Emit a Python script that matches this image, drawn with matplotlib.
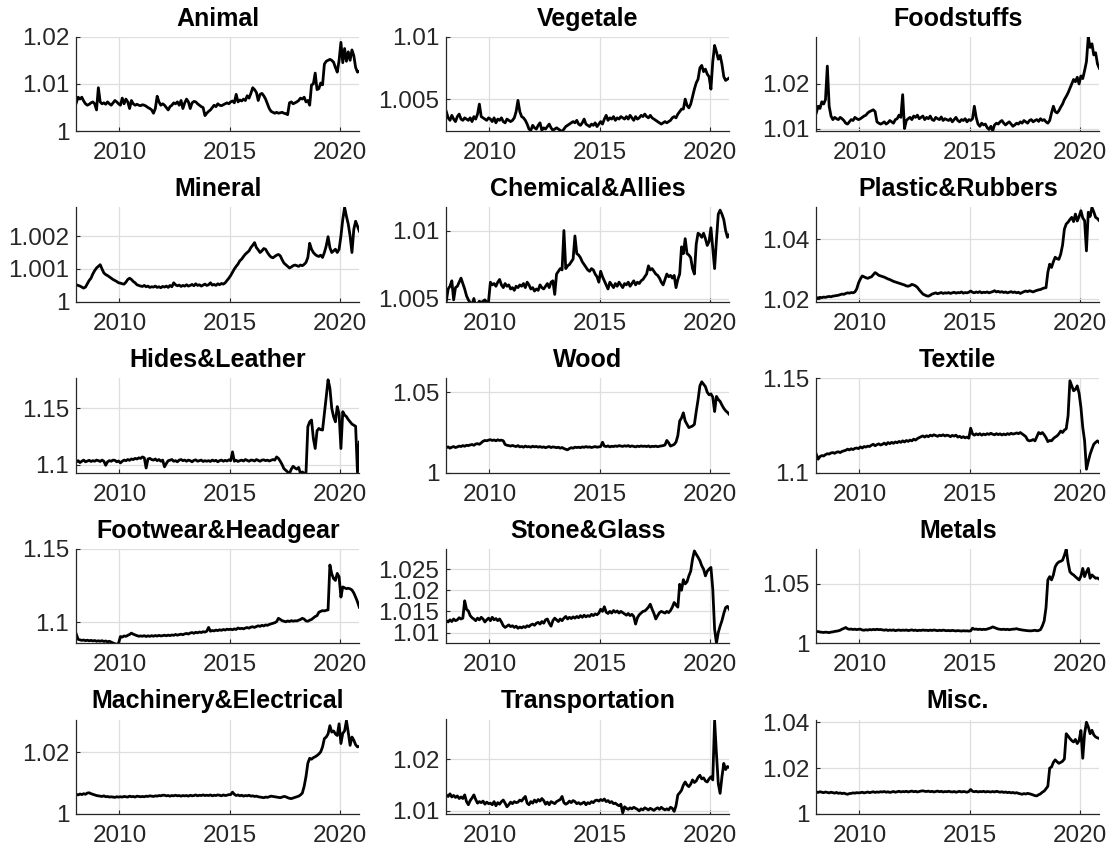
import numpy as np
import matplotlib
matplotlib.use("Agg")
import matplotlib.pyplot as plt

plt.rcParams['font.family'] = ['Liberation Sans', 'DejaVu Sans']

# monthly observations, Jan 2008 .. Nov 2020
start_year = 2008

titles = ["Animal", "Vegetale", "Foodstuffs",
          "Mineral", "Chemical&Allies", "Plastic&Rubbers",
          "Hides&Leather", "Wood", "Textile",
          "Footwear&Headgear", "Stone&Glass", "Metals",
          "Machinery&Electrical", "Transportation", "Misc."]

animal = [
 1.0060, 1.0072, 1.0068, 1.0072, 1.0064, 1.0058, 1.0055, 1.0057, 1.0060, 1.0062, 1.0058, 1.0045,
 1.0092, 1.0062, 1.0058, 1.0060, 1.0057, 1.0062, 1.0058, 1.0055, 1.0060, 1.0065, 1.0062, 1.0058,
 1.0055, 1.0070, 1.0058, 1.0068, 1.0062, 1.0048, 1.0065, 1.0058, 1.0055, 1.0057, 1.0055, 1.0054,
 1.0056, 1.0055, 1.0053, 1.0050, 1.0048, 1.0045, 1.0038, 1.0048, 1.0074, 1.0062, 1.0055, 1.0058,
 1.0055, 1.0050, 1.0045, 1.0052, 1.0055, 1.0060, 1.0058, 1.0062, 1.0055, 1.0065, 1.0048, 1.0060,
 1.0068, 1.0062, 1.0048, 1.0060, 1.0063, 1.0062, 1.0058, 1.0055, 1.0052, 1.0050, 1.0033, 1.0038,
 1.0042, 1.0045, 1.0050, 1.0055, 1.0052, 1.0058, 1.0055, 1.0054, 1.0056, 1.0058, 1.0060, 1.0058,
 1.0062, 1.0064, 1.0060, 1.0078, 1.0062, 1.0066, 1.0064, 1.0068, 1.0065, 1.0075, 1.0070, 1.0080,
 1.0092, 1.0088, 1.0082, 1.0065, 1.0078, 1.0080, 1.0075, 1.0068, 1.0058, 1.0048, 1.0042, 1.0040,
 1.0038, 1.0040, 1.0038, 1.0039, 1.0040, 1.0038, 1.0037, 1.0035, 1.0060, 1.0062, 1.0058, 1.0060,
 1.0062, 1.0065, 1.0070, 1.0068, 1.0072, 1.0062, 1.0065, 1.0055, 1.0098, 1.0100, 1.0123, 1.0088,
 1.0090, 1.0102, 1.0098, 1.0142, 1.0148, 1.0150, 1.0152, 1.0150, 1.0146, 1.0135, 1.0125, 1.0150,
 1.0188, 1.0145, 1.0175, 1.0148, 1.0168, 1.0150, 1.0172, 1.0160, 1.0135, 1.0125, 1.0127]

vegetale = [
 1.0040, 1.0035, 1.0033, 1.0037, 1.0034, 1.0032, 1.0036, 1.0038, 1.0034, 1.0033, 1.0035, 1.0034,
 1.0033, 1.0035, 1.0032, 1.0036, 1.0034, 1.0038, 1.0046, 1.0036, 1.0035, 1.0034, 1.0033, 1.0035,
 1.0034, 1.0032, 1.0035, 1.0031, 1.0034, 1.0033, 1.0035, 1.0032, 1.0031, 1.0034, 1.0033, 1.0032,
 1.0033, 1.0035, 1.0040, 1.0049, 1.0040, 1.0036, 1.0035, 1.0033, 1.0030, 1.0026, 1.0025, 1.0029,
 1.0027, 1.0026, 1.0029, 1.0031, 1.0025, 1.0027, 1.0026, 1.0028, 1.0030, 1.0027, 1.0025, 1.0026,
 1.0027, 1.0026, 1.0025, 1.0024, 1.0026, 1.0028, 1.0029, 1.0030, 1.0031, 1.0032, 1.0031, 1.0033,
 1.0030, 1.0029, 1.0031, 1.0034, 1.0030, 1.0029, 1.0028, 1.0030, 1.0029, 1.0031, 1.0028, 1.0030,
 1.0032, 1.0030, 1.0034, 1.0037, 1.0033, 1.0035, 1.0034, 1.0036, 1.0033, 1.0035, 1.0034, 1.0036,
 1.0035, 1.0034, 1.0036, 1.0034, 1.0037, 1.0035, 1.0033, 1.0036, 1.0034, 1.0035, 1.0037, 1.0036,
 1.0038, 1.0036, 1.0035, 1.0037, 1.0035, 1.0034, 1.0033, 1.0032, 1.0031, 1.0030, 1.0031, 1.0032,
 1.0031, 1.0032, 1.0033, 1.0035, 1.0036, 1.0035, 1.0038, 1.0040, 1.0042, 1.0042, 1.0050, 1.0045,
 1.0043, 1.0046, 1.0052, 1.0058, 1.0063, 1.0066, 1.0075, 1.0077, 1.0072, 1.0074, 1.0070, 1.0068,
 1.0058, 1.0080, 1.0093, 1.0088, 1.0082, 1.0085, 1.0078, 1.0068, 1.0065, 1.0066, 1.0067]

foodstuffs = [
 1.0135, 1.0150, 1.0145, 1.0160, 1.0155, 1.0165, 1.0240, 1.0150, 1.0128, 1.0120, 1.0125, 1.0122,
 1.0120, 1.0125, 1.0122, 1.0118, 1.0112, 1.0110, 1.0115, 1.0120, 1.0118, 1.0125, 1.0122, 1.0120,
 1.0122, 1.0125, 1.0128, 1.0130, 1.0135, 1.0138, 1.0140, 1.0142, 1.0138, 1.0115, 1.0112, 1.0110,
 1.0112, 1.0115, 1.0110, 1.0113, 1.0118, 1.0115, 1.0112, 1.0120, 1.0122, 1.0130, 1.0125, 1.0176,
 1.0100, 1.0118, 1.0122, 1.0125, 1.0120, 1.0128, 1.0125, 1.0130, 1.0122, 1.0125, 1.0128, 1.0120,
 1.0125, 1.0122, 1.0128, 1.0120, 1.0118, 1.0125, 1.0122, 1.0120, 1.0126, 1.0118, 1.0122, 1.0120,
 1.0118, 1.0122, 1.0115, 1.0120, 1.0125, 1.0118, 1.0115, 1.0120, 1.0118, 1.0122, 1.0115, 1.0120,
 1.0118, 1.0122, 1.0150, 1.0125, 1.0110, 1.0105, 1.0112, 1.0108, 1.0110, 1.0102, 1.0098, 1.0105,
 1.0095, 1.0108, 1.0112, 1.0110, 1.0115, 1.0118, 1.0112, 1.0108, 1.0112, 1.0115, 1.0110, 1.0105,
 1.0108, 1.0112, 1.0110, 1.0115, 1.0112, 1.0118, 1.0115, 1.0112, 1.0118, 1.0120, 1.0115, 1.0118,
 1.0120, 1.0116, 1.0122, 1.0118, 1.0120, 1.0115, 1.0112, 1.0118, 1.0135, 1.0150, 1.0138, 1.0135,
 1.0140, 1.0148, 1.0155, 1.0165, 1.0172, 1.0180, 1.0190, 1.0200, 1.0210, 1.0205, 1.0215, 1.0200,
 1.0218, 1.0212, 1.0230, 1.0250, 1.0305, 1.0282, 1.0290, 1.0265, 1.0270, 1.0245, 1.0235]

mineral = [
 1.00052, 1.00050, 1.00048, 1.00045, 1.00042, 1.00045, 1.00055, 1.00065, 1.00072, 1.00085, 1.00095, 1.00103,
 1.00108, 1.00113, 1.00100, 1.00088, 1.00083, 1.00080, 1.00076, 1.00072, 1.00068, 1.00065, 1.00062, 1.00058,
 1.00057, 1.00055, 1.00054, 1.00060, 1.00068, 1.00072, 1.00068, 1.00062, 1.00058, 1.00052, 1.00050, 1.00048,
 1.00047, 1.00050, 1.00046, 1.00048, 1.00044, 1.00046, 1.00045, 1.00048, 1.00044, 1.00046, 1.00043, 1.00047,
 1.00045, 1.00048, 1.00044, 1.00050, 1.00046, 1.00058, 1.00052, 1.00049, 1.00051, 1.00047, 1.00050, 1.00048,
 1.00052, 1.00048, 1.00050, 1.00053, 1.00049, 1.00055, 1.00050, 1.00052, 1.00048, 1.00051, 1.00054, 1.00050,
 1.00052, 1.00058, 1.00051, 1.00053, 1.00050, 1.00055, 1.00052, 1.00056, 1.00054, 1.00058, 1.00065, 1.00072,
 1.00080, 1.00090, 1.00100, 1.00108, 1.00115, 1.00125, 1.00130, 1.00138, 1.00145, 1.00150, 1.00155, 1.00165,
 1.00172, 1.00180, 1.00165, 1.00158, 1.00150, 1.00155, 1.00162, 1.00160, 1.00150, 1.00142, 1.00136, 1.00134,
 1.00138, 1.00142, 1.00144, 1.00140, 1.00128, 1.00118, 1.00113, 1.00108, 1.00103, 1.00106, 1.00110, 1.00112,
 1.00110, 1.00108, 1.00112, 1.00110, 1.00114, 1.00120, 1.00135, 1.00178, 1.00160, 1.00150, 1.00144, 1.00140,
 1.00138, 1.00142, 1.00135, 1.00150, 1.00170, 1.00198, 1.00165, 1.00150, 1.00155, 1.00160, 1.00150, 1.00160,
 1.00200, 1.00250, 1.00287, 1.00260, 1.00236, 1.00200, 1.00150, 1.00220, 1.00245, 1.00230, 1.00215]

chemical = [
 1.0048, 1.0057, 1.0059, 1.0063, 1.0049, 1.0058, 1.0059, 1.0062, 1.0065, 1.0061, 1.0057, 1.0052,
 1.0049, 1.0047, 1.00455, 1.0050, 1.0044, 1.0046, 1.0048, 1.0047, 1.0048, 1.0049, 1.0047, 1.0048,
 1.0062, 1.0060, 1.0061, 1.0059, 1.0062, 1.0064, 1.0060, 1.0058, 1.0061, 1.0059, 1.0060, 1.0057,
 1.0058, 1.0056, 1.0059, 1.0058, 1.0060, 1.0059, 1.0061, 1.0058, 1.0062, 1.0060, 1.0057, 1.0058,
 1.00555, 1.0057, 1.0056, 1.0060, 1.0058, 1.0057, 1.0059, 1.0061, 1.0058, 1.0062, 1.0063, 1.0053,
 1.0068, 1.0070, 1.0072, 1.0071, 1.0100, 1.0072, 1.0074, 1.0075, 1.0077, 1.0079, 1.0096, 1.0083,
 1.0082, 1.0080, 1.0077, 1.0075, 1.0073, 1.0071, 1.0070, 1.0072, 1.0071, 1.0068, 1.0066, 1.0062,
 1.0070, 1.0066, 1.0063, 1.0060, 1.0057, 1.0062, 1.0060, 1.0058, 1.0061, 1.0059, 1.0062, 1.0060,
 1.0058, 1.0061, 1.0060, 1.0062, 1.0059, 1.0061, 1.0063, 1.0060, 1.0062, 1.0061, 1.0063, 1.0064,
 1.0066, 1.0068, 1.0074, 1.0071, 1.0072, 1.0070, 1.0068, 1.0067, 1.0065, 1.0062, 1.0060, 1.0064,
 1.0068, 1.0066, 1.0067, 1.0065, 1.0067, 1.0058, 1.0064, 1.0068, 1.0088, 1.0083, 1.0094, 1.0083,
 1.0082, 1.0080, 1.0072, 1.0068, 1.0090, 1.0098, 1.0097, 1.0095, 1.0098, 1.0094, 1.0089, 1.0092,
 1.0102, 1.0087, 1.0072, 1.0093, 1.0112, 1.0115, 1.0112, 1.0108, 1.0100, 1.0095, 1.0097]

plastic = [
 1.0206, 1.0205, 1.0207, 1.0206, 1.0208, 1.0207, 1.0209, 1.0210, 1.0209, 1.0211, 1.0212, 1.0213,
 1.0214, 1.0216, 1.0218, 1.0217, 1.0220, 1.0222, 1.0221, 1.0223, 1.0222, 1.0225, 1.0235, 1.0255,
 1.0268, 1.0278, 1.0275, 1.0272, 1.0270, 1.0273, 1.0275, 1.0282, 1.0289, 1.0285, 1.0280, 1.0278,
 1.0276, 1.0274, 1.0271, 1.0268, 1.0266, 1.0263, 1.0260, 1.0258, 1.0256, 1.0254, 1.0252, 1.0250,
 1.0248, 1.0245, 1.0244, 1.0246, 1.0250, 1.0248, 1.0245, 1.0240, 1.0232, 1.0225, 1.0218, 1.0215,
 1.0212, 1.0211, 1.0214, 1.0218, 1.0220, 1.0222, 1.0219, 1.0221, 1.0223, 1.0220, 1.0222, 1.0221,
 1.0223, 1.0220, 1.0222, 1.0224, 1.0221, 1.0223, 1.0222, 1.0225, 1.0221, 1.0223, 1.0222, 1.0224,
 1.0228, 1.0224, 1.0222, 1.0225, 1.0223, 1.0226, 1.0222, 1.0224, 1.0223, 1.0225, 1.0222, 1.0224,
 1.0226, 1.0229, 1.0225, 1.0227, 1.0224, 1.0226, 1.0223, 1.0225, 1.0222, 1.0224, 1.0226, 1.0223,
 1.0225, 1.0222, 1.0224, 1.0220, 1.0223, 1.0226, 1.0228, 1.0226, 1.0229, 1.0227, 1.0225, 1.0228,
 1.0230, 1.0232, 1.0233, 1.0236, 1.0238, 1.0239, 1.0290, 1.0317, 1.0306, 1.0325, 1.0340, 1.0335,
 1.0333, 1.0350, 1.0380, 1.0433, 1.0450, 1.0456, 1.0465, 1.0472, 1.0458, 1.0483, 1.0460, 1.0475,
 1.0494, 1.0470, 1.0461, 1.0361, 1.0489, 1.0475, 1.0505, 1.0490, 1.0472, 1.0468, 1.0461]

hides = [
 1.1024, 1.1035, 1.1018, 1.1030, 1.1040, 1.1025, 1.1032, 1.1038, 1.1028, 1.1035, 1.1030, 1.1040,
 1.1035, 1.1028, 1.1040, 1.1030, 1.0994, 1.1025, 1.1035, 1.1030, 1.1040, 1.1038, 1.1025, 1.1032,
 1.1015, 1.1030, 1.1040, 1.1035, 1.1045, 1.1038, 1.1050, 1.1045, 1.1055, 1.1050, 1.1060, 1.1055,
 1.1068, 1.1060, 1.0970, 1.1050, 1.1055, 1.1045, 1.1040, 1.1050, 1.1035, 1.1045, 1.1030, 1.1040,
 1.0980, 1.1010, 1.1035, 1.1039, 1.1045, 1.1030, 1.1035, 1.1025, 1.1040, 1.1045, 1.1035, 1.1040,
 1.1030, 1.1040, 1.1035, 1.1025, 1.1038, 1.1042, 1.1030, 1.1035, 1.1040, 1.1028, 1.1035, 1.1030,
 1.1035, 1.1028, 1.1040, 1.1032, 1.1038, 1.1025, 1.1035, 1.1040, 1.1030, 1.1038, 1.1032, 1.1042,
 1.1035, 1.1113, 1.1030, 1.1038, 1.1028, 1.1035, 1.1040, 1.1032, 1.1045, 1.1038, 1.1030, 1.1040,
 1.1039, 1.1032, 1.1045, 1.1038, 1.1030, 1.1040, 1.1042, 1.1035, 1.1040, 1.1032, 1.1038, 1.1045,
 1.1040, 1.1068, 1.1055, 1.1030, 1.1000, 1.0964, 1.0950, 1.0935, 1.0920, 1.0960, 1.0985, 1.0970,
 1.0960, 1.0975, 1.0920, 1.0935, 1.0921, 1.0930, 1.1336, 1.1380, 1.1396, 1.1232, 1.1143, 1.1300,
 1.1321, 1.1310, 1.1307, 1.1450, 1.1600, 1.1753, 1.1679, 1.1500, 1.1426, 1.1380, 1.1515, 1.1450,
 1.1143, 1.1470, 1.1440, 1.1426, 1.1400, 1.1380, 1.1360, 1.1350, 1.1340, 1.0930, 1.1200]

wood = [
 1.0155, 1.0160, 1.0152, 1.0158, 1.0162, 1.0156, 1.0160, 1.0165, 1.0162, 1.0168, 1.0164, 1.0170,
 1.0168, 1.0172, 1.0175, 1.0170, 1.0178, 1.0180, 1.0176, 1.0185, 1.0195, 1.0200, 1.0198, 1.0202,
 1.0205, 1.0200, 1.0203, 1.0198, 1.0204, 1.0200, 1.0202, 1.0198, 1.0175, 1.0170, 1.0168, 1.0165,
 1.0169, 1.0165, 1.0162, 1.0168, 1.0160, 1.0163, 1.0158, 1.0165, 1.0160, 1.0162, 1.0158, 1.0164,
 1.0160, 1.0163, 1.0158, 1.0162, 1.0157, 1.0160, 1.0155, 1.0159, 1.0162, 1.0156, 1.0160, 1.0158,
 1.0155, 1.0158, 1.0152, 1.0156, 1.0150, 1.0145, 1.0142, 1.0150, 1.0155, 1.0152, 1.0158, 1.0156,
 1.0158, 1.0155, 1.0160, 1.0157, 1.0162, 1.0158, 1.0160, 1.0156, 1.0159, 1.0162, 1.0158, 1.0160,
 1.0162, 1.0189, 1.0165, 1.0162, 1.0166, 1.0160, 1.0164, 1.0162, 1.0166, 1.0163, 1.0168, 1.0165,
 1.0163, 1.0167, 1.0164, 1.0168, 1.0162, 1.0166, 1.0163, 1.0160, 1.0165, 1.0162, 1.0166, 1.0163,
 1.0165, 1.0162, 1.0166, 1.0160, 1.0164, 1.0162, 1.0165, 1.0161, 1.0164, 1.0166, 1.0168, 1.0172,
 1.0200, 1.0185, 1.0165, 1.0170, 1.0175, 1.0190, 1.0230, 1.0321, 1.0340, 1.0372, 1.0321, 1.0300,
 1.0280, 1.0285, 1.0290, 1.0300, 1.0380, 1.0453, 1.0540, 1.0565, 1.0550, 1.0535, 1.0500, 1.0484,
 1.0490, 1.0470, 1.0380, 1.0474, 1.0455, 1.0443, 1.0420, 1.0400, 1.0385, 1.0375, 1.0362]

textile = [
 1.1097, 1.1071, 1.1085, 1.1090, 1.1088, 1.1095, 1.1100, 1.1098, 1.1104, 1.1106, 1.1102, 1.1108,
 1.1110, 1.1106, 1.1112, 1.1115, 1.1118, 1.1124, 1.1120, 1.1126, 1.1122, 1.1128, 1.1130, 1.1127,
 1.1136, 1.1130, 1.1138, 1.1135, 1.1140, 1.1138, 1.1145, 1.1150, 1.1142, 1.1148, 1.1152, 1.1146,
 1.1150, 1.1156, 1.1148, 1.1159, 1.1153, 1.1160, 1.1155, 1.1162, 1.1158, 1.1165, 1.1160, 1.1168,
 1.1162, 1.1170, 1.1165, 1.1172, 1.1168, 1.1177, 1.1172, 1.1180, 1.1185, 1.1190, 1.1194, 1.1188,
 1.1195, 1.1190, 1.1198, 1.1194, 1.1200, 1.1196, 1.1192, 1.1198, 1.1195, 1.1200, 1.1194, 1.1198,
 1.1196, 1.1190, 1.1197, 1.1193, 1.1198, 1.1188, 1.1192, 1.1185, 1.1190, 1.1184, 1.1188, 1.1182,
 1.1235, 1.1205, 1.1198, 1.1205, 1.1200, 1.1206, 1.1198, 1.1204, 1.1200, 1.1206, 1.1202, 1.1208,
 1.1203, 1.1200, 1.1206, 1.1201, 1.1205, 1.1199, 1.1204, 1.1200, 1.1206, 1.1202, 1.1208, 1.1204,
 1.1206, 1.1210, 1.1206, 1.1212, 1.1205, 1.1198, 1.1190, 1.1172, 1.1168, 1.1170, 1.1175, 1.1168,
 1.1190, 1.1212, 1.1205, 1.1212, 1.1200, 1.1185, 1.1164, 1.1170, 1.1168, 1.1180, 1.1188, 1.1194,
 1.1205, 1.1220, 1.1212, 1.1225, 1.1232, 1.1300, 1.1486, 1.1460, 1.1433, 1.1440, 1.1459, 1.1420,
 1.1345, 1.1239, 1.1168, 1.1018, 1.1060, 1.1097, 1.1125, 1.1150, 1.1160, 1.1168, 1.1158]

footwear = [
 1.0920, 1.0885, 1.0881, 1.0878, 1.0880, 1.0876, 1.0879, 1.0875, 1.0878, 1.0874, 1.0877, 1.0872,
 1.0875, 1.0872, 1.0876, 1.0870, 1.0874, 1.0868, 1.0872, 1.0866, 1.0860, 1.0855, 1.0851, 1.0858,
 1.0904, 1.0900, 1.0908, 1.0905, 1.0912, 1.0918, 1.0927, 1.0920, 1.0915, 1.0910, 1.0906, 1.0908,
 1.0906, 1.0910, 1.0904, 1.0909, 1.0905, 1.0910, 1.0906, 1.0911, 1.0907, 1.0912, 1.0908, 1.0910,
 1.0913, 1.0909, 1.0914, 1.0910, 1.0915, 1.0912, 1.0918, 1.0913, 1.0917, 1.0920, 1.0916, 1.0922,
 1.0925, 1.0921, 1.0928, 1.0931, 1.0926, 1.0933, 1.0929, 1.0935, 1.0931, 1.0937, 1.0934, 1.0940,
 1.0966, 1.0940, 1.0945, 1.0942, 1.0948, 1.0944, 1.0950, 1.0946, 1.0952, 1.0948, 1.0954, 1.0951,
 1.0954, 1.0950, 1.0956, 1.0952, 1.0962, 1.0957, 1.0960, 1.0956, 1.0962, 1.0965, 1.0961, 1.0968,
 1.0970, 1.0966, 1.0972, 1.0977, 1.0973, 1.0980, 1.0976, 1.0983, 1.0980, 1.0986, 1.0990, 1.0994,
 1.0998, 1.1005, 1.1028, 1.1020, 1.1012, 1.1008, 1.1004, 1.1010, 1.1006, 1.1012, 1.1008, 1.1011,
 1.1010, 1.1015, 1.1020, 1.1028, 1.1022, 1.1010, 1.1008, 1.1015, 1.1020, 1.1030, 1.1040, 1.1046,
 1.1069, 1.1075, 1.1080, 1.1078, 1.1082, 1.1085, 1.1390, 1.1330, 1.1298, 1.1285, 1.1333, 1.1310,
 1.1172, 1.1241, 1.1235, 1.1229, 1.1232, 1.1228, 1.1220, 1.1200, 1.1172, 1.1140, 1.1103]

stone = [
 1.0128, 1.0125, 1.0130, 1.0126, 1.0132, 1.0128, 1.0130, 1.0135, 1.0132, 1.0134, 1.0175, 1.0155,
 1.0151, 1.0140, 1.0135, 1.0132, 1.0128, 1.0134, 1.0130, 1.0136, 1.0132, 1.0125, 1.0130, 1.0134,
 1.0128, 1.0136, 1.0130, 1.0133, 1.0128, 1.0132, 1.0125, 1.0116, 1.0112, 1.0115, 1.0118, 1.0114,
 1.0116, 1.0112, 1.0115, 1.0110, 1.0113, 1.0111, 1.0114, 1.0112, 1.0116, 1.0114, 1.0118, 1.0120,
 1.0117, 1.0122, 1.0124, 1.0120, 1.0126, 1.0122, 1.0130, 1.0132, 1.0122, 1.0115, 1.0128, 1.0134,
 1.0130, 1.0126, 1.0132, 1.0128, 1.0134, 1.0138, 1.0132, 1.0136, 1.0133, 1.0137, 1.0134, 1.0138,
 1.0135, 1.0140, 1.0136, 1.0141, 1.0137, 1.0140, 1.0138, 1.0143, 1.0140, 1.0144, 1.0142, 1.0146,
 1.0155, 1.0150, 1.0161, 1.0148, 1.0145, 1.0150, 1.0146, 1.0152, 1.0148, 1.0151, 1.0146, 1.0150,
 1.0147, 1.0144, 1.0141, 1.0145, 1.0140, 1.0143, 1.0138, 1.0120, 1.0135, 1.0142, 1.0146, 1.0150,
 1.0151, 1.0155, 1.0160, 1.0167, 1.0155, 1.0145, 1.0132, 1.0140, 1.0147, 1.0150, 1.0148, 1.0146,
 1.0150, 1.0147, 1.0152, 1.0160, 1.0171, 1.0165, 1.0160, 1.0214, 1.0200, 1.0225, 1.0215, 1.0220,
 1.0234, 1.0245, 1.0274, 1.0293, 1.0285, 1.0278, 1.0270, 1.0258, 1.0250, 1.0234, 1.0245, 1.0250,
 1.0254, 1.0203, 1.0108, 1.0075, 1.0100, 1.0115, 1.0128, 1.0145, 1.0159, 1.0162, 1.0155]

metals = [
 1.0100, 1.0098, 1.0095, 1.0093, 1.0091, 1.0094, 1.0092, 1.0090, 1.0094, 1.0096, 1.0100, 1.0102,
 1.0105, 1.0110, 1.0119, 1.0125, 1.0133, 1.0122, 1.0118, 1.0120, 1.0116, 1.0119, 1.0115, 1.0118,
 1.0119, 1.0112, 1.0110, 1.0114, 1.0111, 1.0116, 1.0113, 1.0117, 1.0114, 1.0118, 1.0115, 1.0116,
 1.0113, 1.0110, 1.0114, 1.0108, 1.0112, 1.0109, 1.0113, 1.0106, 1.0110, 1.0112, 1.0108, 1.0111,
 1.0109, 1.0112, 1.0107, 1.0110, 1.0113, 1.0108, 1.0111, 1.0106, 1.0110, 1.0108, 1.0112, 1.0109,
 1.0110, 1.0107, 1.0111, 1.0108, 1.0112, 1.0109, 1.0106, 1.0110, 1.0107, 1.0111, 1.0108, 1.0106,
 1.0108, 1.0105, 1.0109, 1.0106, 1.0104, 1.0107, 1.0105, 1.0103, 1.0106, 1.0104, 1.0105, 1.0103,
 1.0105, 1.0127, 1.0118, 1.0120, 1.0116, 1.0119, 1.0115, 1.0118, 1.0116, 1.0120, 1.0125, 1.0130,
 1.0138, 1.0132, 1.0125, 1.0120, 1.0118, 1.0116, 1.0119, 1.0115, 1.0118, 1.0114, 1.0117, 1.0119,
 1.0120, 1.0123, 1.0118, 1.0115, 1.0112, 1.0110, 1.0108, 1.0106, 1.0105, 1.0105, 1.0107, 1.0110,
 1.0105, 1.0108, 1.0115, 1.0146, 1.0188, 1.0300, 1.0533, 1.0561, 1.0533, 1.0575, 1.0644, 1.0670,
 1.0685, 1.0690, 1.0699, 1.0740, 1.0790, 1.0680, 1.0602, 1.0585, 1.0575, 1.0560, 1.0547, 1.0533,
 1.0565, 1.0630, 1.0561, 1.0600, 1.0630, 1.0547, 1.0575, 1.0561, 1.0547, 1.0550, 1.0539]

machinery = [
 1.0064, 1.0062, 1.0065, 1.0063, 1.0066, 1.0064, 1.0068, 1.0069, 1.0066, 1.0064, 1.0062, 1.0060,
 1.0059, 1.0058, 1.0057, 1.0059, 1.0056, 1.0057, 1.0055, 1.0056, 1.0055, 1.0054, 1.0056, 1.0055,
 1.0056, 1.0055, 1.0057, 1.0056, 1.0055, 1.0058, 1.0056, 1.0057, 1.0055, 1.0058, 1.0057, 1.0056,
 1.0057, 1.0056, 1.0058, 1.0057, 1.0059, 1.0058, 1.0057, 1.0059, 1.0058, 1.0060, 1.0059, 1.0061,
 1.0061, 1.0059, 1.0060, 1.0058, 1.0060, 1.0059, 1.0061, 1.0059, 1.0060, 1.0058, 1.0060, 1.0059,
 1.0060, 1.0058, 1.0061, 1.0059, 1.0060, 1.0062, 1.0059, 1.0061, 1.0060, 1.0062, 1.0060, 1.0061,
 1.0060, 1.0062, 1.0059, 1.0061, 1.0060, 1.0062, 1.0061, 1.0059, 1.0062, 1.0060, 1.0061, 1.0063,
 1.0063, 1.0071, 1.0064, 1.0060, 1.0062, 1.0059, 1.0061, 1.0058, 1.0060, 1.0059, 1.0061, 1.0058,
 1.0059, 1.0057, 1.0058, 1.0056, 1.0055, 1.0054, 1.0053, 1.0055, 1.0054, 1.0056, 1.0058, 1.0057,
 1.0056, 1.0055, 1.0054, 1.0053, 1.0055, 1.0057, 1.0056, 1.0053, 1.0051, 1.0050, 1.0052, 1.0054,
 1.0056, 1.0058, 1.0062, 1.0068, 1.0090, 1.0122, 1.0165, 1.0181, 1.0178, 1.0183, 1.0186, 1.0190,
 1.0195, 1.0202, 1.0218, 1.0245, 1.0250, 1.0260, 1.0287, 1.0266, 1.0270, 1.0260, 1.0255, 1.0293,
 1.0229, 1.0262, 1.0270, 1.0303, 1.0265, 1.0223, 1.0250, 1.0240, 1.0225, 1.0218, 1.0220]

transportation = [
 1.0131, 1.0128, 1.0133, 1.0127, 1.0130, 1.0126, 1.0129, 1.0124, 1.0127, 1.0124, 1.0131, 1.0118,
 1.0112, 1.0120, 1.0125, 1.0131, 1.0122, 1.0115, 1.0118, 1.0116, 1.0119, 1.0113, 1.0117, 1.0114,
 1.0115, 1.0112, 1.0118, 1.0110, 1.0116, 1.0113, 1.0118, 1.0121, 1.0115, 1.0108, 1.0112, 1.0117,
 1.0114, 1.0118, 1.0116, 1.0117, 1.0121, 1.0119, 1.0124, 1.0128, 1.0115, 1.0112, 1.0118, 1.0115,
 1.0121, 1.0117, 1.0122, 1.0119, 1.0124, 1.0120, 1.0113, 1.0117, 1.0112, 1.0118, 1.0116, 1.0114,
 1.0118, 1.0120, 1.0122, 1.0128, 1.0116, 1.0113, 1.0115, 1.0119, 1.0116, 1.0120, 1.0118, 1.0114,
 1.0116, 1.0113, 1.0115, 1.0117, 1.0112, 1.0116, 1.0114, 1.0118, 1.0116, 1.0120, 1.0121, 1.0119,
 1.0122, 1.0120, 1.0123, 1.0118, 1.0120, 1.0116, 1.0118, 1.0114, 1.0115, 1.0112, 1.0110, 1.0113,
 1.0096, 1.0108, 1.0105, 1.0103, 1.0106, 1.0104, 1.0107, 1.0105, 1.0103, 1.0100, 1.0104, 1.0102,
 1.0106, 1.0104, 1.0102, 1.0105, 1.0103, 1.0101, 1.0104, 1.0106, 1.0103, 1.0107, 1.0104, 1.0102,
 1.0104, 1.0102, 1.0107, 1.0105, 1.0099, 1.0110, 1.0131, 1.0135, 1.0140, 1.0150, 1.0156, 1.0150,
 1.0147, 1.0152, 1.0160, 1.0155, 1.0158, 1.0165, 1.0169, 1.0162, 1.0164, 1.0158, 1.0156, 1.0162,
 1.0166, 1.0160, 1.0275, 1.0211, 1.0153, 1.0134, 1.0166, 1.0192, 1.0180, 1.0186, 1.0184]

misc = [
 1.0096, 1.0094, 1.0097, 1.0095, 1.0093, 1.0096, 1.0094, 1.0092, 1.0095, 1.0093, 1.0091, 1.0094,
 1.0090, 1.0092, 1.0089, 1.0091, 1.0088, 1.0086, 1.0089, 1.0090, 1.0092, 1.0091, 1.0093, 1.0092,
 1.0093, 1.0095, 1.0092, 1.0094, 1.0096, 1.0093, 1.0095, 1.0097, 1.0094, 1.0096, 1.0095, 1.0097,
 1.0096, 1.0098, 1.0095, 1.0097, 1.0094, 1.0096, 1.0098, 1.0095, 1.0097, 1.0099, 1.0096, 1.0098,
 1.0097, 1.0099, 1.0096, 1.0098, 1.0100, 1.0097, 1.0099, 1.0096, 1.0098, 1.0100, 1.0101, 1.0099,
 1.0098, 1.0100, 1.0097, 1.0099, 1.0096, 1.0098, 1.0100, 1.0097, 1.0099, 1.0096, 1.0098, 1.0097,
 1.0099, 1.0097, 1.0096, 1.0098, 1.0095, 1.0097, 1.0099, 1.0096, 1.0098, 1.0097, 1.0095, 1.0098,
 1.0107, 1.0099, 1.0097, 1.0099, 1.0096, 1.0098, 1.0097, 1.0099, 1.0096, 1.0098, 1.0097, 1.0096,
 1.0098, 1.0096, 1.0099, 1.0097, 1.0095, 1.0097, 1.0094, 1.0096, 1.0093, 1.0095, 1.0092, 1.0094,
 1.0091, 1.0093, 1.0090, 1.0088, 1.0086, 1.0089, 1.0087, 1.0090, 1.0088, 1.0086, 1.0083, 1.0080,
 1.0079, 1.0084, 1.0088, 1.0095, 1.0100, 1.0110, 1.0121, 1.0200, 1.0205, 1.0225, 1.0236, 1.0228,
 1.0221, 1.0225, 1.0230, 1.0240, 1.0350, 1.0340, 1.0329, 1.0320, 1.0314, 1.0325, 1.0307, 1.0320,
 1.0364, 1.0243, 1.0350, 1.0400, 1.0380, 1.0350, 1.0365, 1.0345, 1.0336, 1.0332, 1.0329]

series = [animal, vegetale, foodstuffs, mineral, chemical, plastic, hides, wood,
          textile, footwear, stone, metals, machinery, transportation, misc]

x_ticks = [2010, 2015, 2020]
y_ticks = [[1, 1.01, 1.02], [1.005, 1.01], [1.01, 1.02],
           [1, 1.001, 1.002], [1.005, 1.01], [1.02, 1.04],
           [1.1, 1.15], [1, 1.05], [1.1, 1.15],
           [1.1, 1.15], [1.01, 1.015, 1.02, 1.025], [1, 1.05],
           [1, 1.02], [1.01, 1.02], [1, 1.02, 1.04]]
y_limits = [(1.0, 1.02), (1.00243, 1.01), (1.0094, 1.0306),
            (1.0, 1.00287), (1.00475, 1.0117), (1.0192, 1.0505),
            (1.0929, 1.1768), (1.0, 1.0588), (1.1, 1.15),
            (1.0858, 1.15), (1.00745, 1.0298), (1.0, 1.0795),
            (1.0, 1.0307), (1.0094, 1.0277), (1.0, 1.0412)]

W, H = 1112, 852
fig = plt.figure(figsize=(W / 100, H / 100), dpi=100)

lefts = [76.3, 446.3, 816.3]
ax_w = 283.0
ax_h = 94.5
tick_col = '#262626'

for k, (name, vals) in enumerate(zip(titles, series)):
    r, c = divmod(k, 3)
    top = 36.7 + 170.7 * r
    ax = fig.add_axes([lefts[c] / W, 1 - (top + ax_h) / H, ax_w / W, ax_h / H])
    n = len(vals)
    t = start_year + (np.arange(n) + 0.5) / 12.0
    ax.plot(t, vals, color='black', lw=2.0, solid_joinstyle='round', clip_on=True)
    ax.set_xlim(t[0], t[-1])
    ax.set_ylim(*y_limits[k])
    ax.set_xticks(x_ticks)
    ax.set_xticklabels([str(v) for v in x_ticks])
    ax.set_yticks(y_ticks[k])
    ax.set_yticklabels(['{:g}'.format(v) for v in y_ticks[k]])
    ax.grid(True, color='#dedede', lw=0.9)
    ax.set_axisbelow(True)
    for s in ['top', 'right']:
        ax.spines[s].set_visible(False)
    for s in ['left', 'bottom']:
        ax.spines[s].set_color(tick_col)
        ax.spines[s].set_linewidth(0.9)
    ax.tick_params(axis='both', direction='in', length=3, width=0.8,
                   colors=tick_col, labelsize=17.5)
    ax.tick_params(axis='x', pad=8)
    ax.tick_params(axis='y', pad=5)
    ax.set_title(name, fontsize=18, fontweight='bold', color='black', pad=8)

fig.savefig('out.png', dpi=100)
